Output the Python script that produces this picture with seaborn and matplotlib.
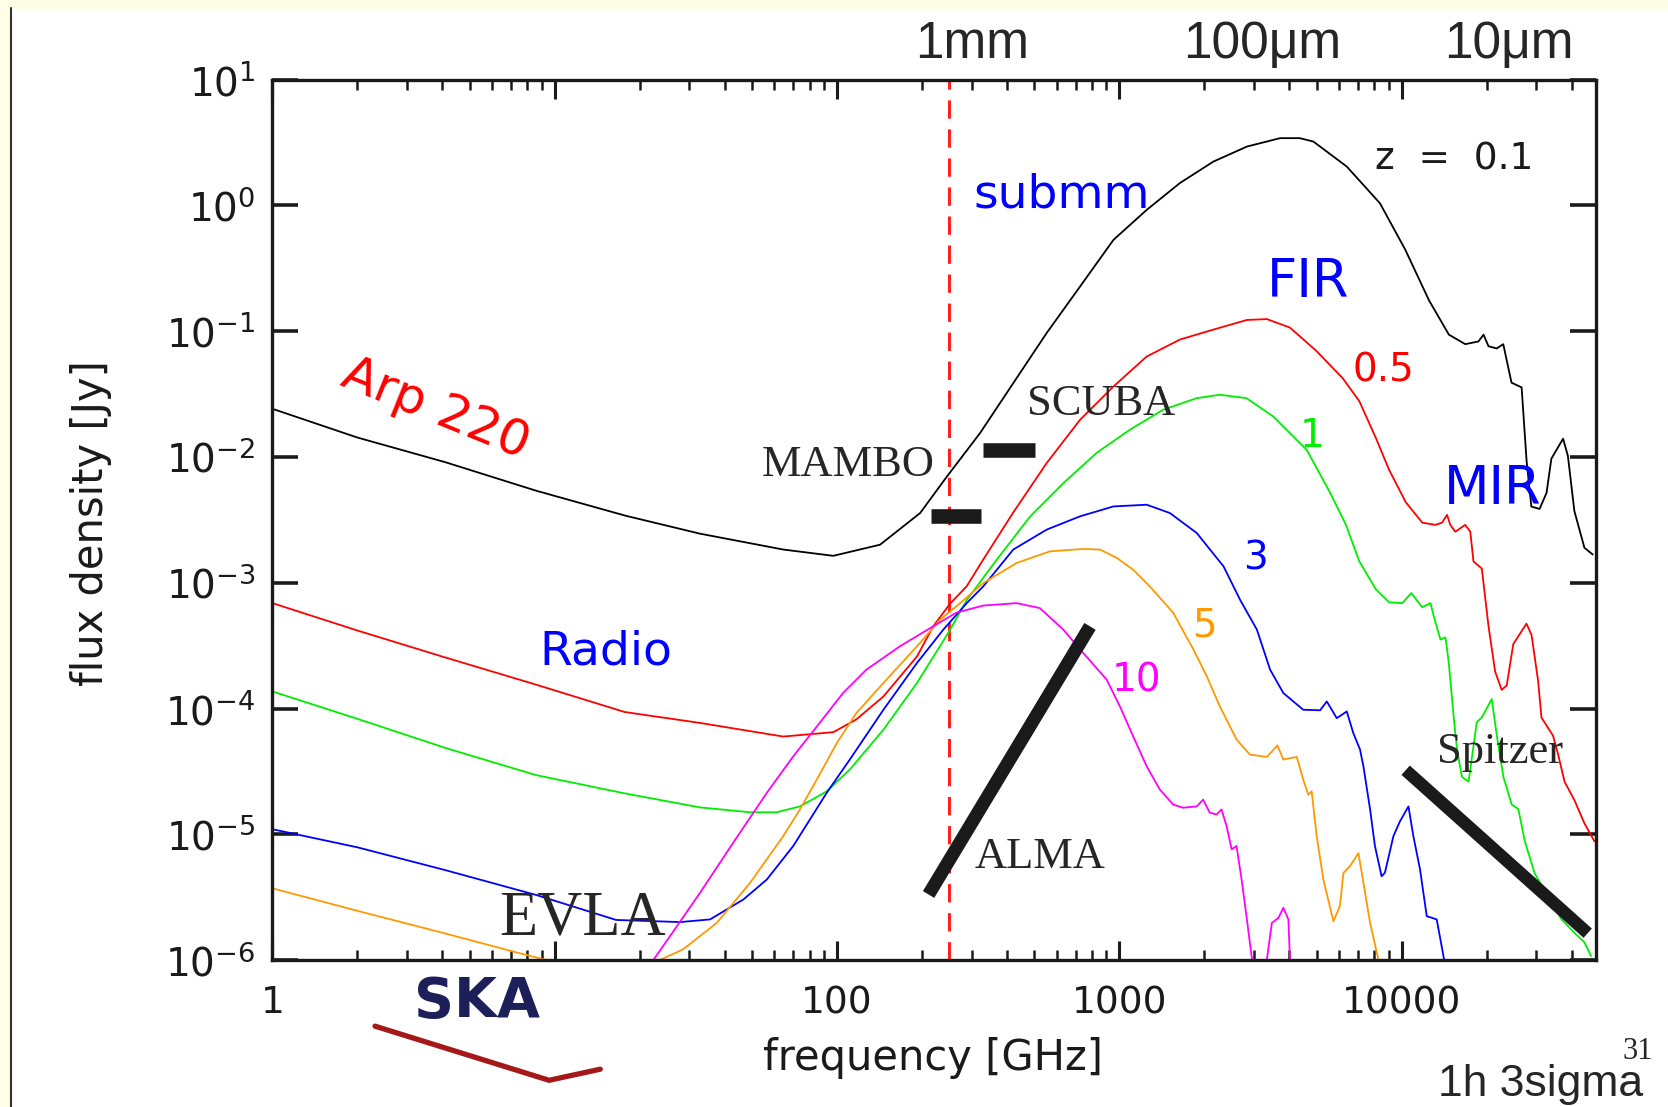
import matplotlib
matplotlib.use("Agg")
import matplotlib.pyplot as plt
import numpy as np
import pandas as pd
import seaborn as sns
from matplotlib.lines import Line2D
from matplotlib.patches import Rectangle

# Arp 220 SED redshifted to several z
# frequency in GHz, flux density in Jy
freq_z01 = [1, 2.0, 4.1, 8.6, 17.8, 32.7, 64.5, 97, 142, 197, 245, 321, 421, 553,
            726, 953, 1250, 1640, 2150, 2830, 3710, 4360, 4870, 6390, 8380, 10300,
            12500, 14700, 16800, 18700, 19500, 20300, 21700, 22900, 24500, 26600,
            27700, 28800, 30800, 32600, 33900, 37300, 38800, 40900, 44400, 47500]
flux_z01 = [2.42e-2, 1.43e-2, 9.1e-3, 5.4e-3, 3.42e-3, 2.46e-3, 1.84e-3, 1.64e-3,
            2.01e-3, 3.59e-3, 7.0e-3, 1.55e-2, 3.87e-2, 9.7e-2, 0.227, 0.533, 0.923,
            1.51, 2.23, 2.94, 3.43, 3.43, 3.22, 2.04, 1.04, 0.445, 0.176, 9.4e-2,
            7.9e-2, 8.3e-2, 9.4e-2, 7.6e-2, 7.3e-2, 7.9e-2, 3.9e-2, 3.58e-2, 9.3e-3,
            4.04e-3, 3.87e-3, 5.2e-3, 9.7e-3, 1.40e-2, 1.02e-2, 3.72e-3, 1.90e-3, 1.68e-3]

freq_z05 = [1, 2.0, 4.1, 8.6, 17.7, 32.7, 64.5, 97, 117, 146, 192, 219, 251, 288, 330,
            421, 553, 726, 953, 1250, 1640, 2150, 2830, 3330, 4020, 4980, 6180, 7080,
            8100, 9030, 10330, 11830, 13160, 13900, 14480, 14870, 15490, 16790, 17500,
            17960, 19220, 20300, 21430, 22610, 23560, 24850, 27670, 28840, 30430,
            31270, 34360, 35800, 37770, 40930, 44360, 48190]
flux_z05 = [6.9e-4, 4.18e-4, 2.55e-4, 1.55e-4, 9.4e-5, 7.7e-5, 6.0e-5, 6.5e-5, 8.2e-5,
            1.25e-4, 2.6e-4, 4.5e-4, 6.8e-4, 9.4e-4, 1.54e-3, 3.63e-3, 8.97e-3, 1.98e-2,
            3.64e-2, 6.3e-2, 8.6e-2, 0.103, 0.123, 0.125, 0.107, 7.0e-2, 4.24e-2,
            2.78e-2, 1.42e-2, 7.9e-3, 4.39e-3, 3.01e-3, 2.89e-3, 3.01e-3, 3.47e-3,
            2.89e-3, 2.55e-3, 2.89e-3, 2.55e-3, 1.48e-3, 1.30e-3, 4.55e-4, 1.97e-4,
            1.41e-4, 1.53e-4, 3.26e-4, 4.74e-4, 3.85e-4, 1.66e-4, 8.5e-5, 6.1e-5,
            4.35e-5, 2.62e-5, 1.87e-5, 1.23e-5, 8.8e-6]

freq_z1 = [1, 2.0, 4.1, 8.6, 17.7, 32.7, 49.2, 61.1, 73.9, 91.9, 111, 146, 192, 251,
           288, 368, 483, 633, 831, 1090, 1430, 1880, 2270, 2820, 3510, 4610, 5580,
           6350, 7080, 8100, 9030, 10050, 10810, 11200, 11820, 12650, 13000, 13720,
           14290, 14680, 15290, 15710, 16350, 17260, 18450, 19220, 20840, 21730,
           22930, 24530, 25890, 27310, 29590, 32980, 36780, 40930, 44360, 46880]
flux_z1 = [1.37e-4, 8.3e-5, 4.87e-5, 2.96e-5, 2.12e-5, 1.64e-5, 1.50e-5, 1.50e-5,
           1.67e-5, 2.20e-5, 3.28e-5, 6.8e-5, 1.60e-4, 4.2e-4, 7.3e-4, 1.53e-3,
           3.37e-3, 6.2e-3, 1.08e-2, 1.65e-2, 2.38e-2, 2.94e-2, 3.13e-2, 2.94e-2,
           2.10e-2, 1.14e-2, 5.2e-3, 2.89e-3, 1.48e-3, 8.9e-4, 7.0e-4, 6.9e-4, 8.3e-4,
           7.5e-4, 6.4e-4, 6.9e-4, 5.4e-4, 3.54e-4, 3.69e-4, 2.33e-4, 8.5e-5, 4.73e-5,
           2.86e-5, 2.63e-5, 7.8e-5, 8.5e-5, 1.19e-4, 6.1e-5, 2.86e-5, 1.73e-5,
           1.59e-5, 8.8e-6, 4.9e-6, 3.22e-6, 2.12e-6, 1.65e-6, 1.39e-6, 1.08e-6]

freq_z3 = [1, 2.0, 4.1, 8.6, 16.5, 27.8, 35.5, 46.6, 56.4, 70.0, 91.9, 111, 146, 192,
           238, 288, 330, 421, 553, 726, 953, 1250, 1510, 1880, 2340, 2680, 3070,
           3420, 3810, 4480, 5140, 5430, 5890, 6390, 6740, 7120, 7320, 7730, 8040,
           8490, 8720, 9350, 9860, 10570, 11000, 11610, 12270, 13310, 14060, 14700]
flux_z3 = [1.10e-5, 7.9e-6, 5.2e-6, 3.30e-6, 2.09e-6, 2.01e-6, 2.11e-6, 3.04e-6,
           4.38e-6, 8.1e-6, 2.14e-5, 3.94e-5, 9.8e-5, 2.31e-4, 4.25e-4, 6.9e-4,
           9.4e-4, 1.84e-3, 2.65e-3, 3.38e-3, 4.05e-3, 4.18e-3, 3.59e-3, 2.49e-3,
           1.35e-3, 7.3e-4, 4.25e-4, 2.04e-4, 1.33e-4, 9.8e-5, 9.7e-5, 1.14e-4,
           8.4e-5, 9.5e-5, 6.4e-5, 4.73e-5, 3.48e-5, 1.58e-5, 8.1e-6, 4.65e-6,
           4.95e-6, 9.7e-6, 1.27e-5, 1.67e-5, 9.7e-6, 5.3e-6, 2.24e-6, 2.11e-6,
           1.08e-6, 5.9e-7]

freq_z5 = [1, 2.0, 4.1, 7.14, 10.3, 16.0, 23.0, 28.5, 37.5, 49.2, 64.5, 73.9, 84.8,
           99.7, 117, 146, 192, 232, 273, 330, 433, 568, 745, 854, 979, 1120, 1280,
           1550, 1830, 2040, 2270, 2600, 2900, 3330, 3630, 3810, 4250, 4480, 4670,
           4800, 5000, 5280, 5730, 6040, 6220, 6560, 7030, 7320, 7730, 8270, 8590]
flux_z5 = [3.73e-6, 2.47e-6, 1.63e-6, 1.17e-6, 9.5e-7, 7.0e-7, 9.8e-7, 1.22e-6,
           1.98e-6, 4.12e-6, 9.7e-6, 1.58e-5, 2.73e-5, 5.3e-5, 9.2e-5, 1.60e-4,
           3.13e-4, 5.1e-4, 6.9e-4, 9.98e-4, 1.44e-3, 1.78e-3, 1.86e-3, 1.84e-3,
           1.58e-3, 1.27e-3, 9.4e-4, 5.8e-4, 2.95e-4, 1.81e-4, 1.04e-4, 5.7e-5,
           4.31e-5, 4.13e-5, 5.1e-5, 3.94e-5, 4.13e-5, 2.73e-5, 2.07e-5, 2.20e-5,
           9.7e-6, 4.38e-6, 2.04e-6, 2.69e-6, 4.94e-6, 5.6e-6, 7.1e-6, 4.12e-6,
           1.98e-6, 1.01e-6, 6.5e-7]

freq_z10 = [20.7, 22.4, 25.6, 32.7, 42.9, 56.4, 70.0, 84.8, 105, 127, 167, 219, 265,
            330, 433, 523, 633, 745, 902, 1005, 1120, 1250, 1390, 1550, 1680, 1880,
            1980, 2090, 2210, 2300, 2400, 2500, 2600, 2710, 2830, 2940, 3110, 3330,
            3470, 3660, 3810, 3970, 4020, 4070]
flux_z10 = [7.2e-7, 1.01e-6, 1.55e-6, 3.43e-6, 8.6e-6, 2.14e-5, 4.18e-5, 7.2e-5,
            1.33e-4, 2.04e-4, 3.13e-4, 4.51e-4, 5.8e-4, 6.6e-4, 6.9e-4, 6.3e-4,
            4.25e-4, 2.77e-4, 1.70e-4, 1.04e-4, 6.0e-5, 3.48e-5, 2.28e-5, 1.73e-5,
            1.63e-5, 1.67e-5, 1.89e-5, 1.49e-5, 1.44e-5, 1.58e-5, 1.16e-5, 7.6e-6,
            8.1e-6, 4.38e-6, 2.11e-6, 1.08e-6, 6.0e-7, 1.01e-6, 1.98e-6, 2.17e-6,
            2.61e-6, 2.11e-6, 1.01e-6, 6.0e-7]

z_labels = ["0.1", "0.5", "1", "3", "5", "10"]
z_colors = ["#000000", "#FF0000", "#00EE00", "#0000FF", "#FF9900", "#FF00FF"]

# 1h 3sigma sensitivities (GHz, Jy)
mambo_freq = [215, 323]
mambo_flux = [3.42e-3, 3.42e-3]
scuba_freq = [330, 503]
scuba_flux = [1.14e-2, 1.14e-2]
alma_freq = [211, 787]
alma_flux = [3.33e-6, 4.51e-4]
spitzer_freq = [10330, 45600]
spitzer_flux = [3.24e-5, 1.64e-6]
ska_freq = [2.31, 9.55, 14.5]
ska_flux = [2.99e-7, 1.11e-7, 1.36e-7]

mambo_band = 250  # GHz, dashed line

x_ticks = [1, 10, 100, 1000, 10000]
x_ticklabels = ["1", "", "100", "1000", "10000"]
y_ticks = [1e-6, 1e-5, 1e-4, 1e-3, 1e-2, 1e-1, 1e0, 1e1]
y_ticklabels = [r"$10^{-6}$", r"$10^{-5}$", r"$10^{-4}$", r"$10^{-3}$",
                r"$10^{-2}$", r"$10^{-1}$", r"$10^{0}$", r"$10^{1}$"]
wl_labels = ["1mm", "100\u03bcm", "10\u03bcm"]
wl_pos = [300, 3200, 24000]

# long table for seaborn
freqs = [freq_z01, freq_z05, freq_z1, freq_z3, freq_z5, freq_z10]
fluxes = [flux_z01, flux_z05, flux_z1, flux_z3, flux_z5, flux_z10]
frames = []
for lab, f, s in zip(z_labels, freqs, fluxes):
    frames.append(pd.DataFrame({"freq": f, "flux": s, "z": lab}))
sed_df = pd.concat(frames, ignore_index=True)

sns.set_theme(style="white")
plt.rcParams["font.family"] = ["DejaVu Sans"]
plt.rcParams["mathtext.default"] = "regular"

fig = plt.figure(figsize=(16.68, 11.07), dpi=100)
ax = fig.add_axes([0.1633, 0.1326, 0.7934, 0.7954])
ax.set_xscale("log")
ax.set_yscale("log")

sns.lineplot(
    data=sed_df,
    x="freq",
    y="flux",
    hue="z",
    hue_order=z_labels,
    palette=dict(zip(z_labels, z_colors)),
    estimator=None,
    sort=False,
    legend=False,
    lw=1.3,
    ax=ax,
)

ax.axvline(mambo_band, color="#FF2020", lw=2.2, ls=(0, (6, 3.5)), zorder=1)

# instrument sensitivity bars
ax.plot(mambo_freq, mambo_flux, color="k", lw=10.5, solid_capstyle="butt")
ax.plot(scuba_freq, scuba_flux, color="k", lw=10.5, solid_capstyle="butt")
ax.plot(alma_freq, alma_flux, color="k", lw=9.5, solid_capstyle="butt")
ax.plot(spitzer_freq, spitzer_flux, color="k", lw=9, solid_capstyle="butt")
ax.plot(ska_freq, ska_flux, color="#A51818", lw=3.8, clip_on=False)

ax.set_xlim(1, 4.87e4)
ax.set_ylim(1e-6, 10)

ax.set_xticks(x_ticks)
ax.set_xticklabels(x_ticklabels, fontsize=27)
ax.set_yticks(y_ticks)
ax.set_yticklabels(y_ticklabels, fontsize=28)
ax.yaxis.set_minor_locator(matplotlib.ticker.NullLocator())

ax.tick_params(which="both", direction="in", top=True, right=True,
               bottom=True, left=True, colors="k")
ax.tick_params(axis="x", which="major", length=14, width=2.2, pad=18)
ax.tick_params(axis="x", which="minor", length=7, width=1.8)
ax.tick_params(axis="y", which="major", length=19, width=2.6, pad=12)
for sp in ax.spines.values():
    sp.set_color("k")
    sp.set_linewidth(2.4)

ax.set_xlabel("frequency [GHz]", fontsize=30, color="k")
ax.set_ylabel("flux density [Jy]", fontsize=30, color="k")
ax.xaxis.set_label_coords(0.499, -0.087)
ax.yaxis.set_label_coords(-0.121, 0.496)

# wavelength labels above the frame
for lab, pos in zip(wl_labels, wl_pos):
    ax.text(pos, 1.04, lab, transform=ax.get_xaxis_transform(), ha="center",
            va="center", fontsize=37, family="Liberation Sans")

# redshift labels
ax.text(15350, 2.32, "z  =  0.1", fontsize=27, ha="center", va="center", color="k")
ax.text(8590, 4.92e-2, "0.5", fontsize=28, ha="center", va="center", color="#FF0000")
ax.text(4800, 1.47e-2, "1", fontsize=28, ha="center", va="center", color="#00EE00")
ax.text(3030, 1.57e-3, "3", fontsize=28, ha="center", va="center", color="#0000FF")
ax.text(2000, 4.61e-4, "5", fontsize=28, ha="center", va="center", color="#FF9900")
ax.text(1150, 1.67e-4, "10", fontsize=28, ha="center", va="center", color="#FF00FF")

# spectral regions
ax.text(3.8, 2.4e-2, "Arp 220", fontsize=36, color="#FF0000",
        ha="center", va="center", rotation=-22)
ax.text(15.2, 2.83e-4, "Radio", fontsize=34, color="#0000FF",
        ha="center", va="center")
ax.text(625, 1.22, "submm", fontsize=34, color="#0000FF",
        ha="center", va="center")
ax.text(4680, 0.248, "FIR", fontsize=38, color="#0000FF",
        ha="center", va="center")
ax.text(21000, 5.6e-3, "MIR", fontsize=38, color="#0000FF",
        ha="center", va="center")

# instruments
serif = "Liberation Serif"
ax.text(110, 8.7e-3, "MAMBO", fontsize=32, family=serif, ha="center", va="center")
ax.text(861, 2.64e-2, "SCUBA", fontsize=32, family=serif, ha="center", va="center")
ax.text(525, 6.6e-6, "ALMA", fontsize=32, family=serif, ha="center", va="center")
ax.text(22300, 4.55e-5, "Spitzer", fontsize=32, family=serif, ha="center", va="center")
ax.text(12.6, 2.1e-6, "EVLA", fontsize=45, family=serif, ha="center", va="center")

fig.text(0.2857, 0.095, "SKA", fontsize=40, fontweight="bold", color="#1C1F5A",
         ha="center", va="center")
fig.text(0.982, 0.050, "31", fontsize=22, family=serif, ha="center", va="center")
fig.text(0.9235, 0.020, "1h 3sigma", fontsize=32, family="Liberation Sans",
         ha="center", va="center")

# slide frame
fig.add_artist(Rectangle((0, 0), 0.0064, 1, transform=fig.transFigure,
                         color="#FFFDE6", zorder=0))
fig.add_artist(Rectangle((0, 0.9925), 1, 0.0075, transform=fig.transFigure,
                         color="#FFFDE6", zorder=0))
fig.add_artist(Line2D([0.0066, 0.0066], [0, 0.9925], transform=fig.transFigure,
                      color="#333333", lw=1.5))

fig.savefig("out.png", dpi=100)
